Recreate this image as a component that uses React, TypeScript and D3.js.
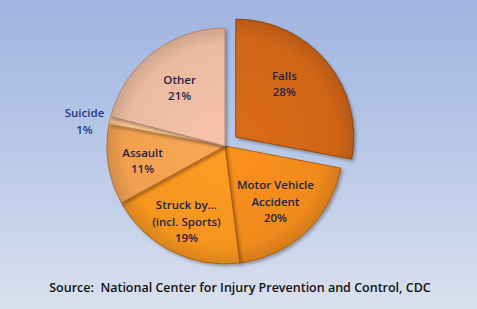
import React from "react";
import * as d3 from "d3";

const categories = ["Falls", "Motor Vehicle Accident", "Struck by… (incl. Sports)", "Assault", "Suicide", "Other"];
const labelLines = [["Falls"], ["Motor Vehicle", "Accident"], ["Struck by…", "(incl. Sports)"], ["Assault"], ["Suicide"], ["Other"]];
const values = [28, 20, 19, 11, 1, 21];
const colors = ["#d06518", "#f08a1c", "#f5951f", "#f0a050", "#f7c890", "#ebbaa0"];
const edgeColors = ["#8a3f0a", "#a85a10", "#a85a10", "#b06a30", "#c08a50", "#b08070"];
const exploded = [14, 0, 0, 0, 0, 0];
const labelFactor = [0.6, 0.6, 0.72, 0.75, 1.22, 0.6];
const labelNudge = [[-6, -9], [2, 3], [0, -1], [5, 0], [0, 6], [-2, -3]];

const W = 477, H = 309;
const cx = 225, cy = 146, R = 118;

export default function App() {
  const pie = d3.pie<number>().sort(null).value((d) => d);
  const arcs = pie(values);
  const arc = d3.arc<d3.PieArcDatum<number>>().innerRadius(0).outerRadius(R);
  return (
    <svg width={W} height={H} style={{ position: "absolute", left: 0, top: 0 }}>
      <defs>
        <linearGradient id="bg" x1="0" y1="0" x2="0" y2="1">
          <stop offset="0" stopColor="#9fb5e0" />
          <stop offset="0.55" stopColor="#bccbe8" />
          <stop offset="1" stopColor="#dae0ee" />
        </linearGradient>
        {colors.map((c, i) => (
          <radialGradient key={i} id={`g${i}`} cx={0} cy={0} r={R} gradientUnits="userSpaceOnUse">
            <stop offset="0" stopColor={d3.color(c)!.brighter(0.15).toString()} />
            <stop offset="0.85" stopColor={c} />
            <stop offset="1" stopColor={d3.color(c)!.darker(0.35).toString()} />
          </radialGradient>
        ))}
        <filter id="sh" x="-20%" y="-20%" width="140%" height="140%">
          <feDropShadow dx="2" dy="2" stdDeviation="1.5" floodColor="#000" floodOpacity="0.3" />
        </filter>
      </defs>
      <rect x={0} y={0} width={W} height={H} fill="url(#bg)" />
      <g transform={`translate(${cx},${cy})`}>
        {arcs.map((a, i) => {
          const mid = (a.startAngle + a.endAngle) / 2;
          const dx = Math.sin(mid) * exploded[i];
          const dy = -Math.cos(mid) * exploded[i];
          return (
            <g key={i} transform={`translate(${dx},${dy})`} filter="url(#sh)">
              <path d={arc(a) || ""} fill={`url(#g${i})`} stroke={edgeColors[i]} strokeWidth={0.9} />
            </g>
          );
        })}
        {arcs.map((a, i) => {
          const mid = (a.startAngle + a.endAngle) / 2;
          const r = R * labelFactor[i] + exploded[i];
          const x = Math.sin(mid) * r + labelNudge[i][0];
          const y = -Math.cos(mid) * r + labelNudge[i][1];
          const lines = [...labelLines[i], `${values[i]}%`];
          const lh = 16.5;
          const y0 = y - ((lines.length - 1) * lh) / 2;
          return (
            <text key={i} x={x} y={y0} textAnchor="middle" dominantBaseline="central"
              fontFamily="'Open Sans', 'Liberation Sans', sans-serif" fontWeight={600} fontSize={11.5}
              fill={i === 4 ? "#1f3a8a" : "#1c2447"}>
              {lines.map((l, j) => (
                <tspan key={j} x={x} dy={j === 0 ? 0 : lh}>{l}</tspan>
              ))}
            </text>
          );
        })}
      </g>
      <text x={240} y={292} textAnchor="middle" fontFamily="'Open Sans', 'Liberation Sans', sans-serif"
        fontWeight={600} fontSize={12.5} fill="#111" style={{ whiteSpace: "pre" }}>
        {"Source:  National Center for Injury Prevention and Control, CDC"}
      </text>
    </svg>
  );
}
